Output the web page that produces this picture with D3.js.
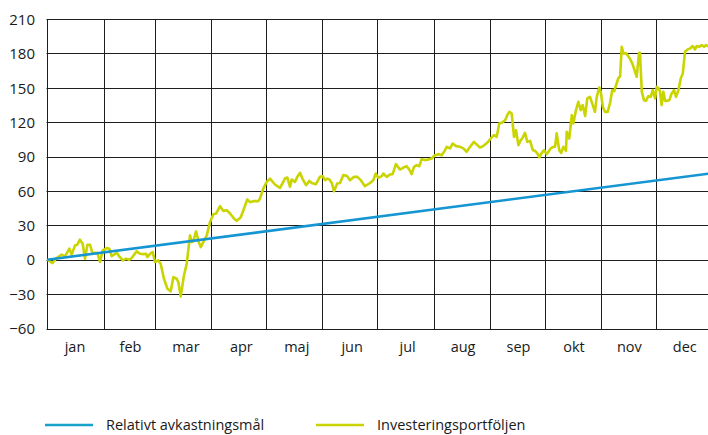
<!DOCTYPE html>
<html>
<head>
<meta charset="utf-8">
<script src="https://cdn.jsdelivr.net/npm/d3@7"></script>
<style>
  html, body { margin: 0; padding: 0; background: #fff; }
  svg { display: block; font-family: "Open Sans", "Noto Sans", sans-serif; }
</style>
</head>
<body>
<svg id="chart" width="708" height="435"></svg>
<script>
// ---------- data ----------
const monthLabels = ["jan","feb","mar","apr","maj","jun","jul","aug","sep","okt","nov","dec"];
const yTickValues = [-60,-30,0,30,60,90,120,150,180,210];

// Relativt avkastningsmål (straight target line), day-of-year -> value
const targetDays   = [0, 365];
const targetValues = [0, 75.5];

// Investeringsportföljen, day-of-year -> value
const portfolioDays = [
  0,2.9,5.1,7.9,9.7,12.1,13.4,15.2,16.5,17.9,19.4,20.7,22,23.4,24.9,26.2,27.5,28.9,30.4,32.6,
  34,35.3,36.6,38.1,39.5,41.4,43.2,45,46.3,49,50.9,52.7,54.2,54.9,56.4,57.8,59.1,60.9,62.2,64,
  65.9,67.7,69.2,71,71.9,73.2,75,76.5,78.3,79.2,80.1,81.6,83.1,84.2,85.6,87.5,89.3,
  91.1,92.6,94.8,96.6,98.4,100.3,102.4,103.9,106.1,107.6,109.7,111.2,113,115.8,116.7,118.5,120.4,
  122.2,124.9,127.7,130.4,131.7,133.2,134.1,135.9,137.2,138.7,140.1,142,143.8,145.1,147.4,149.6,
  151.1,152.4,153.7,154.8,156.1,157.3,159.1,160.6,162.4,164.3,166.1,168.3,170.1,172,174.3,176.7,
  178.9,180.2,181.6,183.5,184.4,186.2,188,189.5,191.3,
  193.5,195.4,197.2,198.6,199.9,201.2,202.7,204.1,205.4,207.3,209.1,210.9,212.7,214.6,216.4,217.7,
  219.2,221,222.4,224.3,226.5,228.3,230.1,232,234.1,236,237.4,239.2,241.4,243.3,245.1,246.6,248,
  249.3,251.2,252.4,253.5,254.8,256.1,257.2,258.5,259.8,260.9,262.1,263.4,264.9,266.4,267.6,268.9,
  270,271.3,272.6,274,276.2,277.7,278.6,279.5,280.9,282,283.1,284.6,
  285,286.4,287.8,288.6,290.1,291.4,292.7,293.8,295.1,296.3,297.8,299.3,300.5,301.5,302.9,303.7,
  304.8,306,307.5,308.8,310,311.1,312.1,313.3,314.3,315.2,316.1,317.6,318.8,320.1,321.2,322.5,
  323.4,324.7,325.2,326.2,327.4,328.5,329.8,331.1,332.2,333.5,334.4,335.5,336.2,337.1,338,339,
  339.9,341.3,342.6,343.9,345,346.3,347.6,348.7,349.9,351.4,352.7,354.1,355.4,356.3,357.8,359.1,
  360.4,361.5,362.5,364
];
const portfolioValues = [
  0,-2.9,1.5,4.4,2.9,9.6,4.4,12.5,13.1,17.5,14,0.9,13.1,13.1,5.2,6.1,5.8,-2,8.1,10.2,
  9.6,3.2,4.4,6.1,2.9,-0.6,0.9,0,1.5,7.3,5.2,4.9,5.2,2.3,5.2,6.7,-2,-0.6,-3.5,-16.6,
  -25.3,-27.6,-15.1,-16.6,-19.5,-32,-13.6,-3.5,21.2,15.4,16,24.7,15.4,11,15.4,21.2,33,
  39.7,40.3,46.7,42.6,43.2,40.3,36,33.9,36.8,43.2,52.5,50.2,51.1,51.1,53.4,62.1,67.9,
  70.8,65.6,62.7,70.8,71.7,63.6,70,67.9,72.3,75.8,70.3,65,68.8,67,65.9,72.3,
  72.9,69.4,70.8,70,67,59.8,66.5,67,73.8,73.2,69.4,72.3,72.3,69.4,64.2,66.5,
  69.4,75.2,71.4,72.9,75.2,72.3,74.4,74.7,83.4,
  78.7,80.4,81.6,78.7,74.6,81,82.5,81.6,87.7,86.9,87.4,88.3,91.2,92.1,91.2,94.1,
  98.5,97.1,101.4,99.1,98.5,97.1,94.1,98.5,102.8,100,97.9,99.1,102,105.8,108.7,107.2,118.9,
  119.4,121.7,126.1,129,127.6,107.2,113,100,104.3,106.6,110.7,102.8,103.7,95.6,95,92.7,
  89.2,93.2,95.6,92.1,97.1,98.5,98.5,110.2,95.6,93.2,98.5,95,
  111.6,105.8,126.1,118.9,130.5,137.8,130.5,134.9,125.3,140.7,142.1,134.9,129,142.1,150.3,146.5,
  133.4,129,129,136.9,148,147.1,152.3,158.2,160.2,185.8,180,180,177.6,174.1,170.4,163.9,
  159.6,180.5,180.5,146.5,139.2,138.6,142.7,142.1,148,140.7,150.9,149.4,146.5,134.9,146.5,138.6,
  138.6,139.2,145.1,148,142.1,148,158.2,162.5,181.4,183.5,184.3,186.4,183.5,186.4,185.8,187.2,
  185.8,187.2,186.4,185.5
];

// ---------- layout ----------
const svg = d3.select("#chart");
const plotLeft = 47.3, plotRight = 712.5, plotTop = 19, plotBottom = 328.5;
const yearStart = new Date(2009, 0, 1), yearEnd = new Date(2010, 0, 1);
const dayToDate = d => new Date(yearStart.getTime() + d * 864e5);

const x = d3.scaleTime().domain([yearStart, yearEnd]).range([plotLeft, plotRight]);
const xBand = d3.scaleBand().domain(monthLabels).range([plotLeft, plotRight]);
const y = d3.scaleLinear().domain([-60, 210]).range([plotBottom, plotTop]);

const gridColor = "#1e1e1e";

// horizontal grid lines
svg.append("g").selectAll("line").data(yTickValues).join("line")
  .attr("x1", Math.round(plotLeft) - 0.5).attr("x2", 708)
  .attr("y1", d => Math.round(y(d)) + 0.5).attr("y2", d => Math.round(y(d)) + 0.5)
  .attr("stroke", gridColor).attr("stroke-width", 1);

// vertical grid lines at month starts (plus left axis)
const monthStarts = x.ticks(d3.timeMonth.every(1)).filter(d => d < yearEnd);
svg.append("g").selectAll("line").data(monthStarts).join("line")
  .attr("x1", d => Math.round(x(d)) + 0.5).attr("x2", d => Math.round(x(d)) + 0.5)
  .attr("y1", Math.round(y(210)) + 0.5).attr("y2", Math.round(y(-60)) + 0.5)
  .attr("stroke", gridColor).attr("stroke-width", 1);

// y axis labels
const yAxis = d3.axisLeft(y).tickValues(yTickValues).tickSize(0).tickPadding(0);
const gy = svg.append("g").attr("transform", "translate(35,0)").call(yAxis);
gy.select(".domain").remove();
gy.selectAll("text").attr("font-family", '"Open Sans", sans-serif')
  .attr("font-size", 15).attr("fill", "#1a1a1a").attr("dy", "0.35em");

// x axis month labels
const xAxis = d3.axisBottom(xBand).tickSize(0).tickPadding(0);
const gx = svg.append("g").attr("transform", "translate(0,342)").call(xAxis);
gx.select(".domain").remove();
gx.selectAll("text").attr("font-family", '"Open Sans", sans-serif')
  .attr("font-size", 14.5).attr("fill", "#1a1a1a").attr("dy", "0.71em");

// clip
svg.append("clipPath").attr("id", "plotClip").append("rect")
  .attr("x", plotLeft - 2).attr("y", plotTop - 5).attr("width", 708 - plotLeft + 2).attr("height", plotBottom - plotTop + 10);

const line = d3.line().x(d => x(dayToDate(d[0]))).y(d => y(d[1]));

const portfolio = portfolioDays.map((d, i) => [d, portfolioValues[i]]);
const target = targetDays.map((d, i) => [d, targetValues[i]]);

const blue = "#1596d2", yellow = "#c9d400";

svg.append("path").datum(portfolio)
  .attr("clip-path", "url(#plotClip)")
  .attr("d", line).attr("fill", "none")
  .attr("stroke", yellow).attr("stroke-width", 2.6).attr("stroke-linejoin", "round");

svg.append("path").datum(target)
  .attr("clip-path", "url(#plotClip)")
  .attr("d", line).attr("fill", "none")
  .attr("stroke", blue).attr("stroke-width", 2.6);

// legend
const legendItems = [
  { label: "Relativt avkastningsmål", color: "#17a3c8", x: 45 },
  { label: "Investeringsportföljen", color: yellow, x: 316 }
];
const lg = svg.append("g").selectAll("g").data(legendItems).join("g")
  .attr("transform", d => `translate(${d.x},425)`);
lg.append("line").attr("x1", 0).attr("x2", 48).attr("y1", 0).attr("y2", 0)
  .attr("stroke", d => d.color).attr("stroke-width", 2.5);
lg.append("text").attr("x", 61).attr("y", 0).attr("dy", "0.35em")
  .attr("font-family", '"Open Sans", sans-serif').attr("font-size", 14.5)
  .attr("fill", "#1a1a1a").text(d => d.label);
</script>
</body>
</html>
